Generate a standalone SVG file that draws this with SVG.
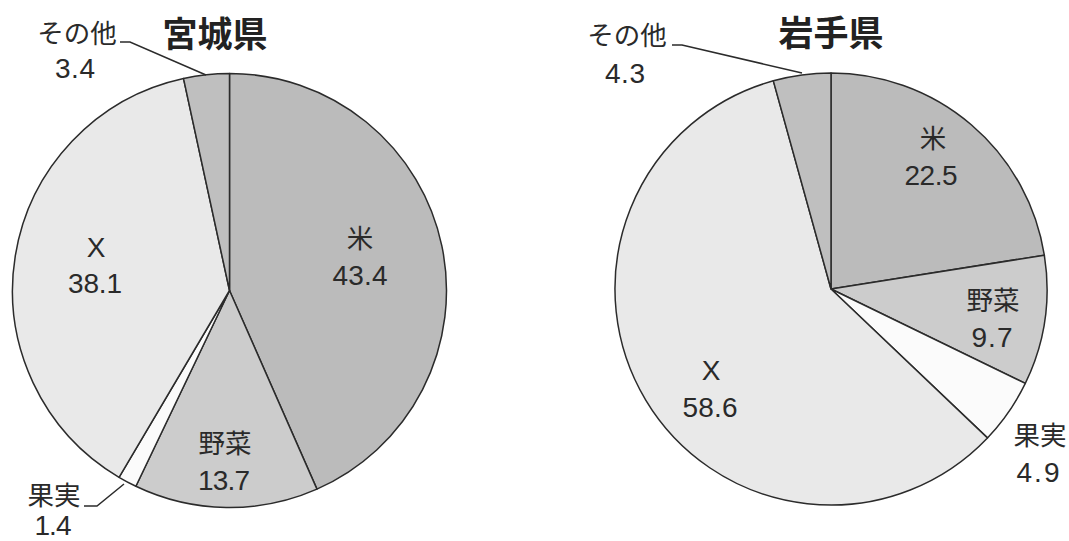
<svg xmlns="http://www.w3.org/2000/svg" width="1069" height="541" viewBox="0 0 1069 541">
<style>
.s{stroke:#2b2b2b;stroke-width:1.5;stroke-linejoin:round}
.rice{fill:#bbbbbb}.veg{fill:#cccccc}.fruit{fill:#fbfbfb}.x{fill:#e9e9e9}.oth{fill:#bfbfbf}
.t{font-family:"Noto Sans CJK JP","Noto Sans",sans-serif;fill:#2a2a2a;text-anchor:middle}
.lab{font-size:26.5px}
.num{font-family:"Liberation Sans","Noto Sans",sans-serif;font-size:28px}
.ttl{font-size:35px;font-weight:bold;fill:#222}
.lead{fill:none;stroke:#2b2b2b;stroke-width:1.5}
</style>
<rect width="1069" height="541" fill="#ffffff"/>
<g id="miyagi">
<text class="t ttl" x="215" y="47">宮城県</text>
<g id="miyagi-rice"><path class="s rice" d="M229.5,290.5 L229.5,73.5 A217,217 0 0,1 316.94,489.1 Z"/><text class="t lab" x="360" y="248">米</text><text class="t num" x="360" y="285" textLength="55" lengthAdjust="spacing">43.4</text></g>
<g id="miyagi-veg"><path class="s veg" d="M229.5,290.5 L316.94,489.1 A217,217 0 0,1 135.88,486.26 Z"/><text class="t lab" x="225" y="453">野菜</text><text class="t num" x="224" y="490" textLength="52" lengthAdjust="spacing">13.7</text></g>
<g id="miyagi-fruit"><path class="s fruit" d="M229.5,290.5 L135.88,486.26 A217,217 0 0,1 119.04,477.28 Z"/><text class="t lab" x="54" y="505">果実</text><text class="t num" x="53" y="535" textLength="37" lengthAdjust="spacing">1.4</text></g>
<g id="miyagi-x"><path class="s x" d="M229.5,290.5 L119.04,477.28 A217,217 0 0,1 183.49,78.43 Z"/><text class="t num" x="96" y="257">X</text><text class="t num" x="95" y="293" textLength="54" lengthAdjust="spacing">38.1</text></g>
<g id="miyagi-other"><path class="s oth" d="M229.5,290.5 L183.49,78.43 A217,217 0 0,1 229.5,73.5 Z"/><text class="t lab" x="77" y="43">その他</text><text class="t num" x="75" y="78" textLength="40" lengthAdjust="spacing">3.4</text></g>
</g>
<g id="iwate">
<text class="t ttl" x="831" y="46">岩手県</text>
<g id="iwate-rice"><path class="s rice" d="M831,289 L831,73 A216,216 0 0,1 1044.34,255.21 Z"/><text class="t lab" x="933" y="148">米</text><text class="t num" x="931" y="185" textLength="53" lengthAdjust="spacing">22.5</text></g>
<g id="iwate-veg"><path class="s veg" d="M831,289 L1044.34,255.21 A216,216 0 0,1 1025.3,383.42 Z"/><text class="t lab" x="993" y="310">野菜</text><text class="t num" x="992" y="347" textLength="41" lengthAdjust="spacing">9.7</text></g>
<g id="iwate-fruit"><path class="s fruit" d="M831,289 L1025.3,383.42 A216,216 0 0,1 987.46,437.91 Z"/><text class="t lab" x="1040" y="445">果実</text><text class="t num" x="1038" y="482" textLength="43" lengthAdjust="spacing">4.9</text></g>
<g id="iwate-x"><path class="s x" d="M831,289 L987.46,437.91 A216,216 0 1,1 773.35,80.84 Z"/><text class="t num" x="711" y="380">X</text><text class="t num" x="710" y="417" textLength="55" lengthAdjust="spacing">58.6</text></g>
<g id="iwate-other"><path class="s oth" d="M831,289 L773.35,80.84 A216,216 0 0,1 831,73 Z"/><text class="t lab" x="627" y="45">その他</text><text class="t num" x="625" y="83" textLength="40" lengthAdjust="spacing">4.3</text></g>
</g>
<g id="connectors">
<polyline class="lead" points="120,42 130,42 206,75"/>
<polyline class="lead" points="84,506 97,506 124,484"/>
<polyline class="lead" points="672,45 682,45 802,73"/>
</g>
</svg>
